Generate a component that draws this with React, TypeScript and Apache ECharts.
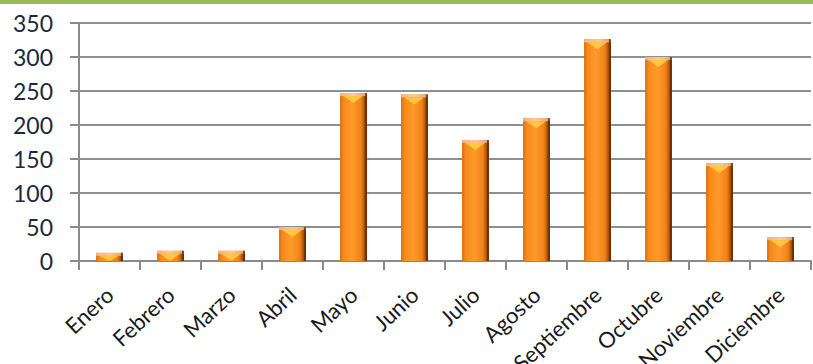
import React, { useEffect, useRef } from "react";
import * as echarts from "echarts";

const months = ["Enero", "Febrero", "Marzo", "Abril", "Mayo", "Junio", "Julio", "Agosto", "Septiembre", "Octubre", "Noviembre", "Diciembre"];
const values = [12, 15, 15, 50, 247, 245, 178, 210, 326, 300, 144, 35];
const yMin = 0;
const yMax = 350;
const yStep = 50;

export default function App() {
  const ref = useRef<HTMLDivElement>(null);
  useEffect(() => {
    if (!ref.current) return;
    const chart = echarts.init(ref.current, null, { renderer: "svg" });
    const bodyFill = new echarts.graphic.LinearGradient(0, 0, 1, 0, [
      { offset: 0, color: "#d46c0a" },
      { offset: 0.12, color: "#f5891c" },
      { offset: 0.45, color: "#ff9a28" },
      { offset: 0.78, color: "#f0821a" },
      { offset: 0.9, color: "#b25606" },
      { offset: 1, color: "#6a2e00" },
    ]);
    const capFill = new echarts.graphic.LinearGradient(0, 0, 1, 0, [
      { offset: 0, color: "#f8b080" },
      { offset: 0.5, color: "#ffc898" },
      { offset: 1, color: "#e8a070" },
    ]);
    const renderItem = (params: any, api: any) => {
      const idx = api.value(0);
      const val = api.value(1);
      const top = api.coord([idx, val]);
      const base = api.coord([idx, 0]);
      const w = api.size([1, 0])[0] * 0.44;
      const x = top[0] - w / 2;
      const y = top[1];
      const h = base[1] - top[1];
      const capH = Math.min(3, h);
      const triH = Math.min(7, Math.max(0, h - capH));
      return {
        type: "group",
        children: [
          { type: "rect", shape: { x, y, width: w, height: h }, style: { fill: bodyFill } },
          { type: "rect", shape: { x, y, width: w, height: capH }, style: { fill: capFill } },
          {
            type: "polygon",
            shape: {
              points: [
                [x + 3, y + capH],
                [x + w - 4, y + capH],
                [x + w / 2, y + capH + triH],
              ],
            },
            style: { fill: "#ffd24a", opacity: 0.8 },
          },
          { type: "rect", shape: { x: x + w - 2, y, width: 2, height: h }, style: { fill: "#6a2e00", opacity: 0.8 } },
        ],
      };
    };
    chart.setOption({
      animation: false,
      grid: { left: 79, right: 2, top: 23, bottom: 103, containLabel: false, outerBoundsMode: "none" },
      graphic: [
        { type: "rect", left: 0, top: 0, shape: { width: 813, height: 4 }, style: { fill: "#9bbb59" } },
      ],
      xAxis: {
        type: "category",
        data: months,
        boundaryGap: true,
        axisLine: { lineStyle: { color: "#8a8a8a", width: 2 } },
        axisTick: { show: true, length: 9, lineStyle: { color: "#8a8a8a", width: 2 } },
        axisLabel: {
          rotate: 43,
          interval: 0,
          margin: 30,
          fontFamily: "Lato",
          fontSize: 22,
          color: "#1a1a1a",
        },
      },
      yAxis: {
        type: "value",
        min: yMin,
        max: yMax,
        interval: yStep,
        axisLine: { show: true, lineStyle: { color: "#8a8a8a", width: 2 } },
        axisTick: { show: true, length: 9, lineStyle: { color: "#8a8a8a", width: 2 } },
        splitLine: { lineStyle: { color: "#8f8f8f", width: 2 } },
        axisLabel: {
          margin: 26,
          fontFamily: "Lato",
          fontSize: 23,
          color: "#1c2a3a",
        },
      },
      series: [
        {
          type: "custom",
          renderItem,
          encode: { x: 0, y: 1 },
          data: values.map((v, i) => [i, v]),
        },
      ],
    });
    return () => chart.dispose();
  }, []);
  return <div ref={ref} style={{ position: "fixed", left: 0, top: 0, width: 813, height: 364, background: "#fff" }} />;
}
